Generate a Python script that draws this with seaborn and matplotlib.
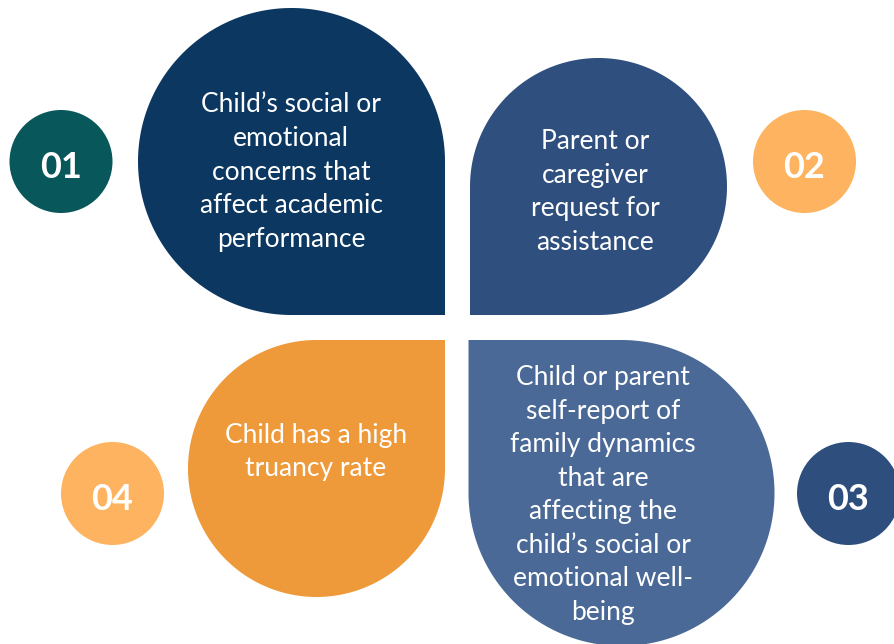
import numpy as np
import matplotlib
matplotlib.use("Agg")
import matplotlib.pyplot as plt
from matplotlib.patches import Polygon
import seaborn as sns
import pandas as pd

# ---- data ----
numbers = ["01", "02", "03", "04"]
labels = [
    "Child\u2019s social or\nemotional\nconcerns that\naffect academic\nperformance",
    "Parent or\ncaregiver\nrequest for\nassistance",
    "Child or parent\nself-report of\nfamily dynamics\nthat are\naffecting the\nchild\u2019s social or\nemotional well-\nbeing",
    "Child has a high\ntruancy rate",
]
shape_colors = ["#0B3761", "#2F4F7E", "#4A6996", "#EE9A3A"]
badge_colors = ["#08575A", "#FDB35F", "#2E4F7E", "#FDB35F"]

# ---- layout (pixel units, y downward) ----
W, H = 894, 644
shape_cx = [291.5, 598.5, 621.5, 316.5]
shape_cy = [161.5, 186.5, 493.0, 468.5]
shape_r = [153.5, 128.5, 153.0, 128.5]
corner_dir = [(1, 1), (-1, 1), (-1, -1), (1, -1)]
text_xy = [(291, 172), (595, 192), (603, 495), (316, 452)]
badge_x = [61, 804.5, 848.5, 112.5]
badge_y = [161.5, 161.5, 493.5, 493.5]
badge_d = 103

sns.set_theme(style="white")
plt.rcParams['font.family'] = ['Lato', 'DejaVu Sans']

fig = plt.figure(figsize=(W / 100, H / 100), dpi=100)
ax = fig.add_axes([0, 0, 1, 1])


def teardrop(cx, cy, r, d):
    sx, sy = d
    tc = np.arctan2(sy, sx)
    t = np.linspace(tc + np.pi / 4, tc + np.pi / 4 + 1.5 * np.pi, 200)
    pts = np.column_stack([cx + r * np.cos(t), cy + r * np.sin(t)])
    pts = np.vstack([pts, [cx + sx * r, cy + sy * r]])
    return pts


for i in range(4):
    poly = Polygon(teardrop(shape_cx[i], shape_cy[i], shape_r[i], corner_dir[i]),
                   closed=True, facecolor=shape_colors[i], edgecolor="none")
    ax.add_patch(poly)
    ax.text(text_xy[i][0], text_xy[i][1], labels[i], color="white", fontsize=19,
            ha="center", va="center", linespacing=1.43, multialignment="center")

df = pd.DataFrame({"x": badge_x, "y": badge_y, "num": numbers, "color": badge_colors})
s = (badge_d * 0.72) ** 2
sns.scatterplot(data=df, x="x", y="y", hue="num", palette=dict(zip(numbers, badge_colors)),
                s=s, linewidth=0, ax=ax, legend=False, zorder=3)
for _, row in df.iterrows():
    ax.text(row.x, row.y + 6, row.num, color="white", fontsize=26, fontweight="bold",
            ha="center", va="center", zorder=4)

ax.set_xlim(0, W)
ax.set_ylim(H, 0)
ax.axis("off")
fig.savefig("out.png", dpi=100)
